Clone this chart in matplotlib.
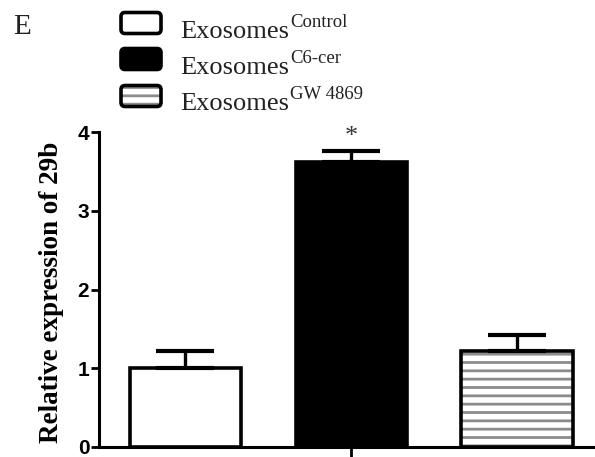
import numpy as np
import matplotlib; matplotlib.use("Agg"); import matplotlib.pyplot as plt
from matplotlib.patches import FancyBboxPatch
from matplotlib.transforms import IdentityTransform

# values
groups = ["Control", "C6-cer", "GW 4869"]
means = [1.00, 3.62, 1.22]
sem_up = [0.22, 0.14, 0.20]
stars = ["", "*", ""]

plt.rcParams["hatch.linewidth"] = 2.0
GREY = "#8c8c8c"
SERIF = "Liberation Serif"

W, H = 595, 457
fig = plt.figure(figsize=(W / 100, H / 100), dpi=100)
ax = fig.add_axes([99 / W, 1 - 447 / H, (595 - 99) / W, (447 - 132) / H])

x = np.arange(len(groups))
bw = 0.67
faces = ["white", "black", "white"]
hatches = [None, None, "--"]
for xi, m, fc, h in zip(x, means, faces, hatches):
    if h:  # grey hatch underneath, black outline on top
        ax.bar(xi, m, bw, color="white", edgecolor=GREY, hatch=h, lw=0, zorder=2)
        ax.bar(xi, m, bw, fill=False, edgecolor="black", lw=2.6, zorder=3)
    else:
        ax.bar(xi, m, bw, color=fc, edgecolor="black", lw=2.6, zorder=3)
ax.errorbar(x, means, yerr=[np.zeros(len(x)), sem_up], fmt="none", ecolor="black",
            elinewidth=2.4, capsize=21, capthick=3, zorder=4)
for xi, m, e, s in zip(x, means, sem_up, stars):
    if s:
        ax.text(xi, m + e + 0.1, s, ha="center", va="baseline", fontsize=19,
                family=SERIF, color="#333333")

ax.set_ylim(0, 4)
ax.set_xlim(-0.52, 2.47)
ax.set_yticks([0, 1, 2, 3, 4])
ax.set_xticks([1]); ax.set_xticklabels([""])
for lab in ax.get_yticklabels():
    lab.set_fontweight("bold"); lab.set_family("Liberation Sans"); lab.set_fontsize(15)
ax.tick_params(axis="both", direction="out", width=2, length=6, pad=1)
ax.tick_params(axis="x", length=10)
for s in ("top", "right"):
    ax.spines[s].set_visible(False)
for s in ("left", "bottom"):
    ax.spines[s].set_linewidth(2.2)
ax.set_ylabel("Relative expression of 29b", family=SERIF, fontweight="bold", fontsize=19.5)
ax.yaxis.set_label_coords((64 - 99) / (595 - 99), 0.49)

# legend drawn by hand (pixel coords from top-left)
pix = IdentityTransform()
box_y = [23, 59, 96]
txt_y = [38, 74, 110]
main_txt = []
for i, (g, fc) in enumerate(zip(groups, faces)):
    yb = H - box_y[i] - 10.5
    style = "round,pad=0,rounding_size=4"
    if hatches[i]:
        fig.patches.append(FancyBboxPatch((121, yb), 40, 21, boxstyle=style,
                                          facecolor="white", edgecolor=GREY, hatch="--", lw=0,
                                          transform=pix, figure=fig))
        fig.patches.append(FancyBboxPatch((121, yb), 40, 21, boxstyle=style,
                                          fill=False, edgecolor="black", lw=2.6,
                                          transform=pix, figure=fig))
    else:
        fig.patches.append(FancyBboxPatch((121, yb), 40, 21, boxstyle=style,
                                          facecolor=fc, edgecolor="black", lw=2.6,
                                          transform=pix, figure=fig))
    t = fig.text(180 / W, 1 - txt_y[i] / H, "Exosomes", family=SERIF, fontsize=19,
                 va="baseline", color="#222222")
    main_txt.append(t)

fig.canvas.draw()
rend = fig.canvas.get_renderer()
for i, (g, t) in enumerate(zip(groups, main_txt)):
    bb = t.get_window_extent(rend)
    fig.text((bb.x1 + 1) / W, 1 - (txt_y[i] - 11) / H, g, family=SERIF, fontsize=13.5,
             va="baseline", color="#222222")

fig.text(13 / W, 1 - 34 / H, "E", family=SERIF, fontsize=21, va="baseline", color="#222222")
fig.savefig("out.png", dpi=100)
